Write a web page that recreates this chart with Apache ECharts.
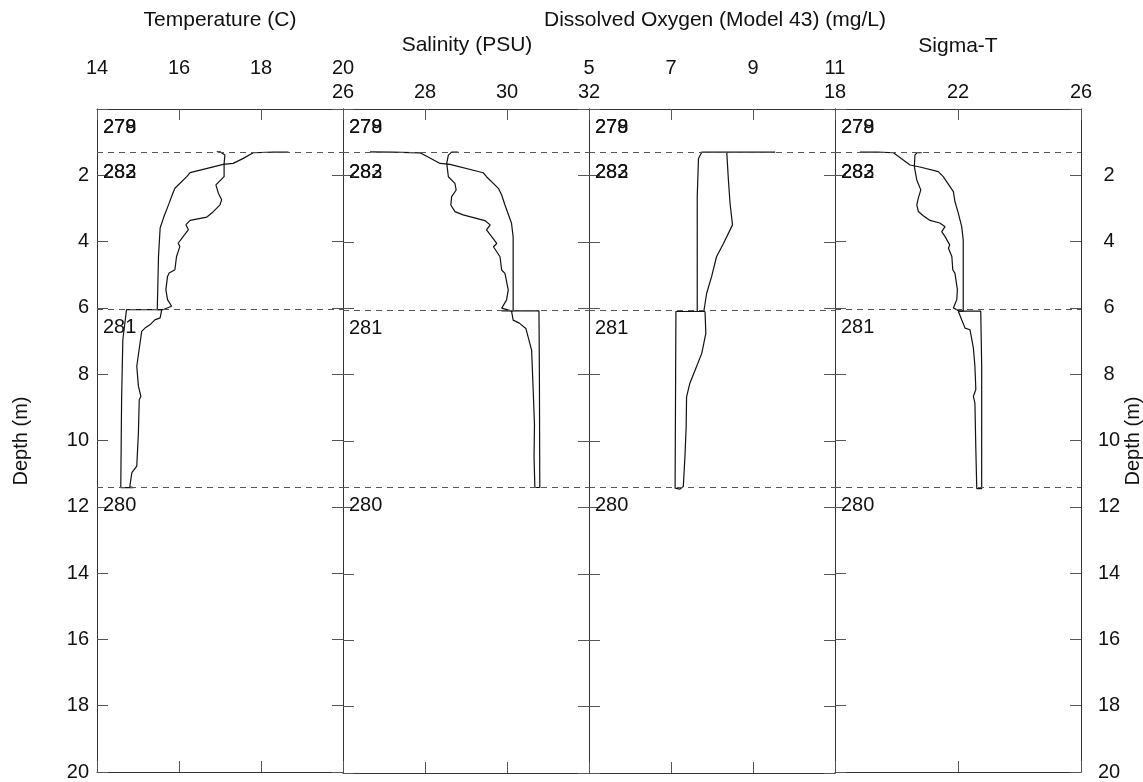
<!DOCTYPE html>
<html><head><meta charset="utf-8">
<script src="https://cdn.jsdelivr.net/npm/echarts@6/dist/echarts.min.js"></script>
<style>html,body{margin:0;padding:0;background:#fff}#c{width:1143px;height:782px}</style>
</head><body><div id="c"></div>
<script>
// ---- data ----
const panelTitles = ['Temperature (C)', 'Salinity (PSU)', 'Dissolved Oxygen (Model 43) (mg/L)', 'Sigma-T'];
const xMins = [14, 26, 5, 18];
const xMaxs = [20, 32, 11, 26];
const xIntervals = [2, 2, 2, 4];
const depthMin = 0, depthMax = 20, depthInterval = 2;
const castBoundaryDepths = [1.3, 6.05, 11.4];
const castLabels = ['278', '279', '282', '283', '281', '280'];
const castLabelDepths = [0.57, 0.57, 1.9, 1.9, 6.6, 11.95];

// [value, depth] pairs
const tempUpper = [[18.67,1.3],[18.3,1.3],[17.81,1.32],[17.57,1.49],[17.32,1.64],[17.08,1.67],[16.27,1.92],[16.19,2.04],[15.9,2.39],[15.85,2.54],[15.76,2.84],[15.62,3.29],[15.54,3.59],[15.5,4.45],[15.47,6.05],[15.62,6.05],[15.82,5.95],[15.72,5.75],[15.68,5.45],[15.72,5.05],[15.76,4.95],[15.9,4.85],[15.94,4.45],[16.02,4.15],[15.98,4.05],[16.1,3.85],[16.23,3.64],[16.17,3.49],[16.27,3.36],[16.68,3.26],[16.8,3.14],[17.0,2.89],[17.04,2.74],[16.96,2.54],[16.9,2.29],[17.1,2.04],[17.1,1.64],[17.12,1.39],[17.0,1.29],[16.92,1.29]];
const tempLower = [[15.58,6.05],[14.72,6.05],[14.63,6.96],[14.6,8.77],[14.58,11.42],[14.89,11.42],[14.8,11.4],[14.85,10.97],[14.97,10.77],[15.01,9.77],[15.03,8.77],[15.07,8.67],[15.01,8.36],[14.97,7.76],[15.05,7.06],[15.09,6.71],[15.17,6.61],[15.29,6.51],[15.41,6.36],[15.54,6.3],[15.58,6.05]];
const salUpper = [[26.66,1.29],[27.2,1.3],[27.88,1.32],[28.37,1.64],[28.61,1.67],[29.42,1.92],[29.5,2.04],[29.79,2.39],[29.87,2.59],[29.95,2.89],[30.11,3.44],[30.15,3.85],[30.15,6.08],[30.1,6.08],[29.87,6.0],[29.99,5.75],[30.03,5.45],[29.95,4.95],[29.87,4.85],[29.83,4.45],[29.67,4.15],[29.75,4.05],[29.63,3.85],[29.5,3.64],[29.59,3.49],[29.46,3.36],[28.93,3.19],[28.73,3.09],[28.63,2.89],[28.65,2.64],[28.76,2.44],[28.73,2.24],[28.57,2.04],[28.53,1.64],[28.57,1.39],[28.65,1.3],[28.81,1.3]];
const salLower = [[29.87,6.08],[30.78,6.08],[30.79,8.0],[30.8,11.4],[30.68,11.4],[30.66,10.5],[30.67,9.5],[30.64,8.5],[30.6,7.26],[30.46,6.61],[30.3,6.45],[30.15,6.36],[30.11,6.08]];
const doUpper = [[9.54,1.3],[8.8,1.3],[8.36,1.3],[8.4,2.14],[8.44,2.84],[8.5,3.49],[8.28,4.05],[8.11,4.45],[7.99,5.05],[7.87,5.55],[7.8,6.1],[7.64,6.1],[7.64,2.64],[7.67,1.49],[7.75,1.3],[8.36,1.3]];
const doLower = [[7.83,6.1],[7.12,6.1],[7.1,11.42],[7.22,11.45],[7.3,11.37],[7.34,10.47],[7.37,9.57],[7.38,8.67],[7.46,8.26],[7.59,7.86],[7.75,7.36],[7.85,6.76],[7.83,6.1]];
const sigUpper = [[18.81,1.3],[19.4,1.3],[19.9,1.32],[20.44,1.69],[20.76,1.75],[21.36,1.89],[21.52,2.04],[21.85,2.49],[21.9,2.79],[22.01,3.14],[22.12,3.55],[22.17,3.95],[22.17,6.1],[22.05,6.1],[21.85,6.0],[21.96,5.75],[21.98,5.45],[21.9,4.95],[21.83,4.85],[21.8,4.45],[21.69,4.2],[21.73,4.1],[21.58,3.85],[21.47,3.7],[21.58,3.55],[21.41,3.44],[21.09,3.36],[20.87,3.22],[20.71,3.09],[20.66,2.89],[20.71,2.69],[20.79,2.44],[20.66,2.14],[20.58,1.74],[20.6,1.39],[20.66,1.32],[20.82,1.32]];
const sigLower = [[22.01,6.1],[22.74,6.1],[22.77,7.76],[22.77,11.45],[22.61,11.45],[22.58,10.27],[22.55,8.87],[22.5,8.67],[22.58,8.46],[22.55,7.76],[22.5,7.21],[22.45,6.96],[22.39,6.66],[22.23,6.61],[22.12,6.36],[22.01,6.1]];

const panelTraces = [[tempUpper, tempLower], [salUpper, salLower], [doUpper, doLower], [sigUpper, sigLower]];

// ---- layout ----
const gridLefts = [97, 343, 589, 835];
const gridW = 246, gridTop = 109, gridH = 664;
const FONT = 'Liberation Sans, Arial, Helvetica, sans-serif';

const grids = [], xAxes = [], yAxes = [], series = [];
for (let i = 0; i < 4; i++) {
  grids.push({left: gridLefts[i], top: gridTop, width: gridW, height: gridH});
  const upperRow = (i % 2 === 0);
  xAxes.push({
    gridIndex: i, type: 'value', position: 'top', min: xMins[i], max: xMaxs[i], interval: xIntervals[i],
    axisLine: {show: true, onZero: false, lineStyle: {color: '#333', width: 1}},
    axisTick: {show: true, inside: true, length: 11, lineStyle: {color: '#555'}},
    axisLabel: {show: true, margin: upperRow ? 31 : 7, fontSize: 20, color: '#111', fontFamily: FONT},
    splitLine: {show: false}
  });
  xAxes.push({
    gridIndex: i, type: 'value', position: 'bottom', min: xMins[i], max: xMaxs[i], interval: xIntervals[i],
    axisLine: {show: true, onZero: false, lineStyle: {color: '#333', width: 1}},
    axisTick: {show: true, inside: true, length: 11, lineStyle: {color: '#555'}},
    axisLabel: {show: false}, splitLine: {show: false}
  });
  for (const side of ['left', 'right']) {
    const showLbl = (i === 0 && side === 'left') || (i === 3 && side === 'right');
    yAxes.push({
      gridIndex: i, type: 'value', position: side, inverse: true, min: depthMin, max: depthMax, interval: depthInterval,
      axisLine: {show: true, onZero: false, lineStyle: {color: '#333', width: 1}},
      axisTick: {show: true, inside: true, length: 11, lineStyle: {color: '#555'}},
      axisLabel: {show: showLbl, margin: side === 'left' ? 8 : 28, align: side === 'left' ? 'right' : 'center',
        fontSize: 20, color: '#111', fontFamily: FONT,
        formatter: v => (v === 0 ? '' : String(v))},
      splitLine: {show: false}
    });
  }
  panelTraces[i].forEach((tr, k) => {
    const s = {
      type: 'line', xAxisIndex: 2 * i, yAxisIndex: 2 * i, data: tr, showSymbol: false, symbol: 'none',
      clip: false, silent: true, lineStyle: {color: '#111', width: 1.2}
    };
    if (k === 0) {
      s.markLine = {silent: true, symbol: ['none', 'none'], label: {show: false},
        lineStyle: {color: '#555', type: [6, 5], width: 1},
        data: castBoundaryDepths.map(d => ({yAxis: d}))};
    }
    series.push(s);
  });
  series.push({
    type: 'scatter', xAxisIndex: 2 * i, yAxisIndex: 2 * i, symbolSize: 0, clip: false, silent: true,
    itemStyle: {opacity: 1},
    data: castLabels.map((lb, k) => [xMins[i], castLabelDepths[k], lb]),
    label: {show: true, position: 'right', distance: 6, fontSize: 20, color: '#111', fontFamily: FONT,
      formatter: p => p.value[2]}
  });
}

const titleCenters = [[220, 20], [467, 45], [715, 20], [958, 46]];
const graphics = panelTitles.map((t, i) => ({
  type: 'text', x: titleCenters[i][0], y: titleCenters[i][1], silent: true,
  style: {text: t, font: '21px ' + FONT, fill: '#111', textAlign: 'center', textVerticalAlign: 'middle'}
}));
graphics.push({type: 'text', x: 21, y: 441, rotation: Math.PI / 2, silent: true,
  style: {text: 'Depth (m)', font: '20px ' + FONT, fill: '#111', textAlign: 'center', textVerticalAlign: 'middle'}});
graphics.push({type: 'text', x: 1133, y: 441, rotation: Math.PI / 2, silent: true,
  style: {text: 'Depth (m)', font: '20px ' + FONT, fill: '#111', textAlign: 'center', textVerticalAlign: 'middle'}});

const chart = echarts.init(document.getElementById('c'), null, {renderer: 'canvas'});
chart.setOption({
  animation: false, backgroundColor: '#fff',
  grid: grids, xAxis: xAxes, yAxis: yAxes, series: series, graphic: graphics
});
</script></body></html>
